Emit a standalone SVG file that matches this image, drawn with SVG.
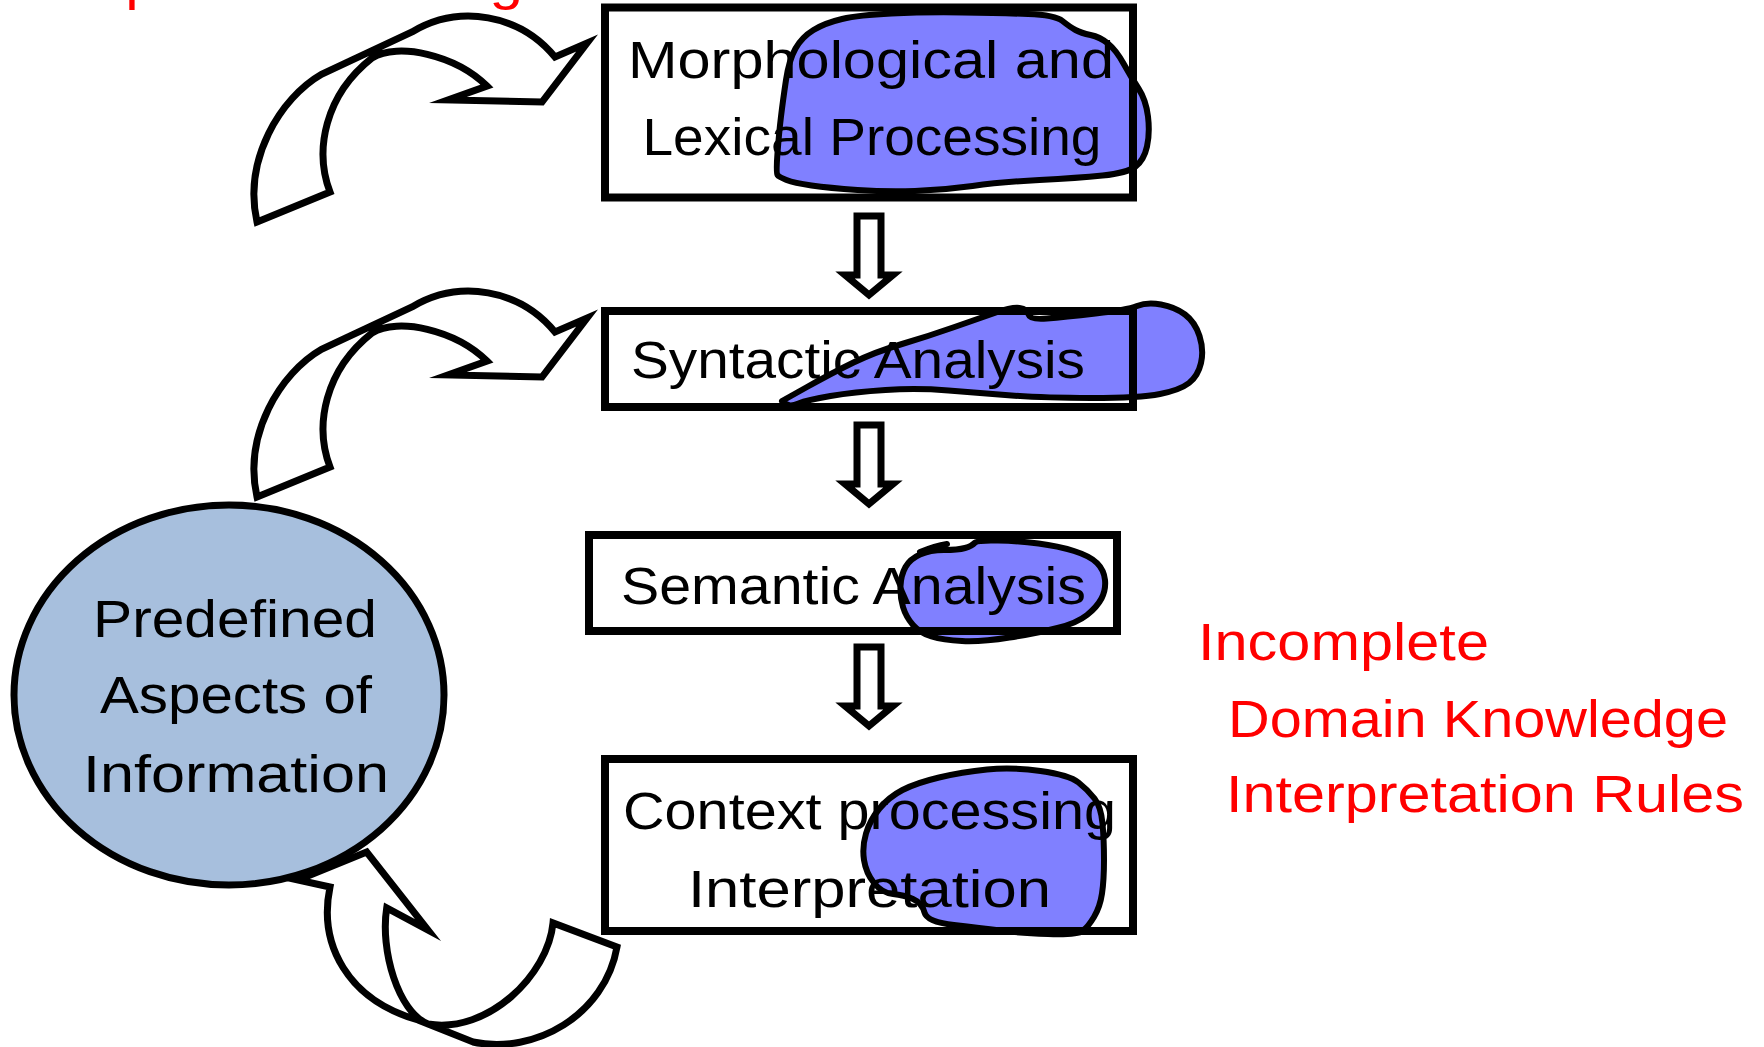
<svg xmlns="http://www.w3.org/2000/svg" width="1764" height="1047" viewBox="0 0 1764 1047">
  <style>
    .box{fill:none;stroke:#000;stroke-width:8}
    .lbl{font-family:"Liberation Sans",Arial,sans-serif;font-size:51px;fill:#000}
    .red{font-family:"Liberation Sans",Arial,sans-serif;font-size:51px;fill:#FF0000}
    .bend{fill:#fff;stroke:#000;stroke-width:7;stroke-miterlimit:10}
    .down{fill:#fff;stroke:#000;stroke-width:7;stroke-miterlimit:10}
    .ink{fill:#8080FF;stroke:#000;stroke-width:6;stroke-linejoin:round;stroke-linecap:round}
    .oval{fill:#A7BFDD;stroke:#000;stroke-width:7}
  </style>
  <defs>
    <!-- curved block arrow feeding a processing stage -->
    <path id="bendArrow" d="M257,222 L330,192 C314,150 325,95 372,58 C398,42 455,55 487,86 L448,100 L542,102 L587,43 L555,57 A111,111 0 0 0 412,32 L322,74 C280,98 243,160 257,222 Z"/>
    <!-- hollow down arrow between stages -->
    <path id="downArrow" d="M857,216 H881 V275 H893 L869,295 L845,275 H857 Z"/>
  </defs>

  <rect width="1764" height="1047" fill="#fff"/>

  <!-- heading line, mostly above the top edge -->
  <text class="red" x="75" y="-1" textLength="448" lengthAdjust="spacingAndGlyphs">Input Processing</text>

  <g id="connectors">
    <use href="#bendArrow" class="bend"/>
    <use href="#bendArrow" class="bend" transform="translate(0,275)"/>
    <path class="bend" d="M617,947 L553,923 C548,975 488,1034 428,1024 C398,1012 380,950 386.7,908 L428,930 L366.7,852 L298,880 L330,887 C318,945 348,1000 418,1020 L473,1042 C535,1055 605,1015 617,947 Z"/>
    <use href="#downArrow" class="down"/>
    <use href="#downArrow" class="down" transform="translate(0,209)"/>
    <use href="#downArrow" class="down" transform="translate(0,431)"/>
  </g>

  <!-- hand-drawn highlight marks -->
  <g id="highlights">
    <path class="ink" d="M777.5,175 Q776,173 777.5,153 Q779,133 781,116.5 Q783,100 786,80 Q789,60 795.5,48.5 Q802,37 813.5,30 Q825,23 842,19 Q859,15 891.5,13.5 Q924,12 962.5,12.5 Q1001,13 1028,14 Q1055,15 1062.5,21 Q1070,27 1075.5,30 Q1081,33 1090.5,35 Q1100,37 1108,43.5 Q1116,50 1123.5,63.5 Q1131,77 1138.5,88.5 Q1146,100 1148,116.5 Q1150,133 1147,146.5 Q1144,160 1135.5,166.5 Q1127,173 1102.5,175.5 Q1078,178 1039.5,180 Q1001,182 972.5,186 Q944,190 915,191 Q886,192 857.5,190 Q829,188 811.5,185.5 Q794,183 786.5,180 Q779,177 777.5,175 Z"/>
    <path class="ink" d="M782,401 L807,387 Q832,373 853.5,362.5 Q875,352 902,344 Q929,336 954.5,327 Q980,318 996,312.5 Q1012,307 1019.5,308 Q1027,309 1028.5,314.5 Q1030,320 1047,318.5 Q1064,317 1095.5,313.5 Q1127,310 1137,306 Q1147,302 1161,304.5 Q1175,307 1185,314.5 Q1195,322 1199.5,336 Q1204,350 1201,363 Q1198,376 1189,383 Q1180,390 1160,394 Q1140,398 1091.5,398 Q1043,398 1011.5,395.5 Q980,393 948.5,390.5 Q917,388 885.5,390 Q854,392 830.5,396 Q807,400 798.5,403.5 Q790,407 786,404 L782,401 Z"/>
    <path class="ink" d="M998,540.5 Q1019,541 1038.5,543.5 Q1058,546 1074,551 Q1090,556 1097,563 Q1104,570 1105,580 Q1106,590 1101.5,598.5 Q1097,607 1087,615 Q1077,623 1057.5,628 Q1038,633 1009.5,637.5 Q981,642 962,641 Q943,640 931.5,636.5 Q920,633 913,625 Q906,617 903,607 Q900,597 900.5,586 Q901,575 905.5,567 Q910,559 920,554.5 Q930,550 944,550 Q958,550 965,548 Q972,546 974.5,543 Q977,540 998,540.5 Z"/>
    <path class="ink" style="fill:none" d="M947,544 Q935,546 920,552"/>
    <path class="ink" d="M1040.5,771 Q1069,775 1078.5,782.5 Q1088,790 1094.5,798.5 Q1101,807 1102.5,823.5 Q1104,840 1104,860 Q1104,880 1102,893.5 Q1100,907 1094,917 Q1088,927 1082.5,931 Q1077,935 1048,934 Q1019,933 1000,930.5 Q981,928 954,925 Q927,922 924.5,912.5 Q922,903 913,899 Q904,895 893,894 Q882,893 874,883 Q866,873 864,860 Q862,847 866,833.5 Q870,820 879.5,808.5 Q889,797 902.5,790 Q916,783 939,777.5 Q962,772 987,769.5 Q1012,767 1040.5,771 Z"/>
  </g>

  <g id="aspects">
    <ellipse class="oval" cx="229" cy="695" rx="215" ry="190"/>
    <text class="lbl" text-anchor="middle" x="235" y="637" textLength="284" lengthAdjust="spacingAndGlyphs">Predefined</text>
    <text class="lbl" text-anchor="middle" x="236" y="713" textLength="272" lengthAdjust="spacingAndGlyphs">Aspects of</text>
    <text class="lbl" text-anchor="middle" x="236" y="792" textLength="306" lengthAdjust="spacingAndGlyphs">Information</text>
  </g>

  <g id="morph-lexical">
    <rect class="box" x="605" y="7.5" width="528" height="190"/>
    <text class="lbl" text-anchor="middle" x="871" y="78" textLength="486" lengthAdjust="spacingAndGlyphs">Morphological and</text>
    <text class="lbl" text-anchor="middle" x="872" y="155" textLength="459" lengthAdjust="spacingAndGlyphs">Lexical Processing</text>
  </g>

  <g id="syntactic">
    <rect class="box" x="605" y="311" width="528" height="96"/>
    <text class="lbl" text-anchor="middle" x="858" y="378" textLength="454" lengthAdjust="spacingAndGlyphs">Syntactic Analysis</text>
  </g>

  <g id="semantic">
    <rect class="box" x="589" y="535" width="528" height="96"/>
    <text class="lbl" text-anchor="middle" x="853.5" y="604" textLength="465" lengthAdjust="spacingAndGlyphs">Semantic Analysis</text>
  </g>

  <g id="context">
    <rect class="box" x="605" y="759" width="528" height="172"/>
    <text class="lbl" text-anchor="middle" x="869.5" y="829" textLength="493" lengthAdjust="spacingAndGlyphs">Context processing</text>
    <text class="lbl" text-anchor="middle" x="869.5" y="907" textLength="363" lengthAdjust="spacingAndGlyphs">Interpretation</text>
  </g>

  <g id="notes">
    <text class="red" x="1198" y="660" textLength="291" lengthAdjust="spacingAndGlyphs">Incomplete</text>
    <text class="red" x="1228" y="737" textLength="500" lengthAdjust="spacingAndGlyphs">Domain Knowledge</text>
    <text class="red" x="1226" y="812" textLength="518" lengthAdjust="spacingAndGlyphs">Interpretation Rules</text>
  </g>
</svg>
